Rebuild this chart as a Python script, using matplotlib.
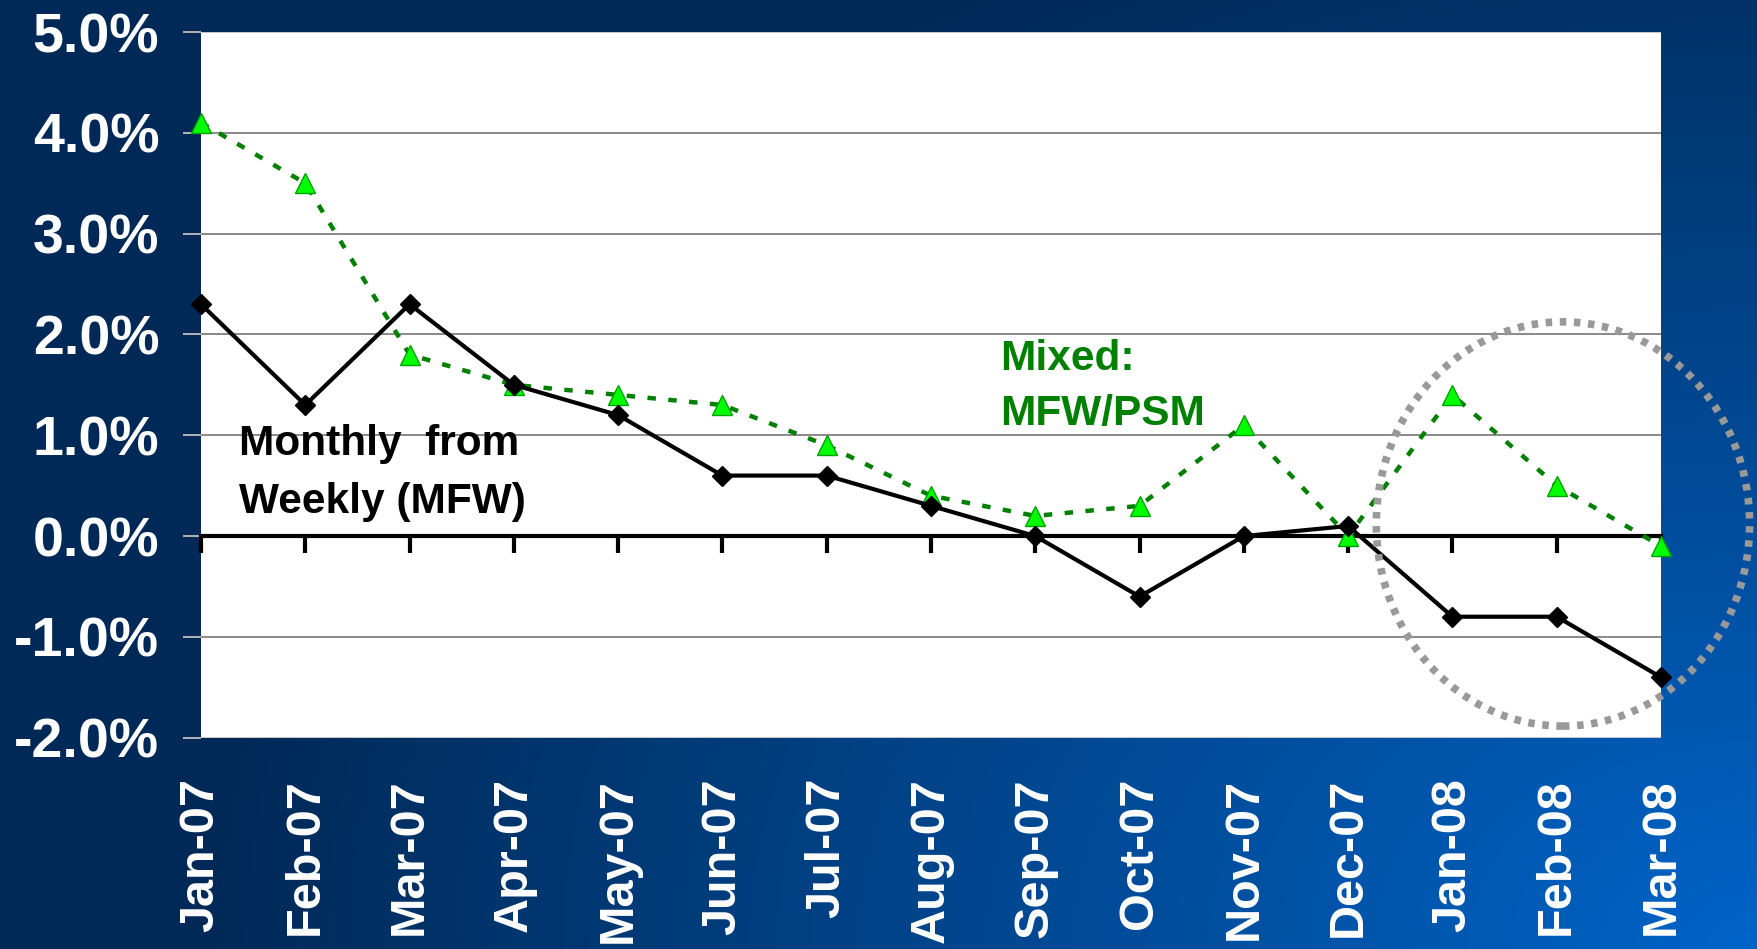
import numpy as np
import matplotlib
matplotlib.use('Agg')
import matplotlib.pyplot as plt
from matplotlib.patches import Ellipse
from matplotlib.colors import to_rgb

months = ['Jan-07', 'Feb-07', 'Mar-07', 'Apr-07', 'May-07', 'Jun-07', 'Jul-07',
          'Aug-07', 'Sep-07', 'Oct-07', 'Nov-07', 'Dec-07', 'Jan-08', 'Feb-08', 'Mar-08']
mfw = [2.3, 1.3, 2.3, 1.5, 1.2, 0.6, 0.6, 0.3, 0.0, -0.6, 0.0, 0.1, -0.8, -0.8, -1.4]
mixed = [4.1, 3.5, 1.8, 1.5, 1.4, 1.3, 0.9, 0.4, 0.2, 0.3, 1.1, 0.0, 1.4, 0.5, -0.1]
y_ticks = [-2, -1, 0, 1, 2, 3, 4, 5]
y_labels = ['-2.0%', '-1.0%', '0.0%', '1.0%', '2.0%', '3.0%', '4.0%', '5.0%']

plt.rcParams['font.family'] = ['Liberation Sans', 'DejaVu Sans']
plt.rcParams['font.weight'] = 'bold'

W, H = 1758, 949
fig = plt.figure(figsize=(W / 100, H / 100), dpi=100)

# background gradient
bg = fig.add_axes([0, 0, 1, 1], zorder=-10)
yy, xx = np.mgrid[0:H, 0:W]
d = np.hypot((W - xx) / 1.4, H - yy)
t = np.clip(1 - d / 1100, 0, 1)
dark = np.array(to_rgb('#002a58'))
bright = np.array(to_rgb('#0064c8'))
img = dark + (bright - dark) * t[..., None]
bg.imshow(img, aspect='auto', extent=[0, 1, 0, 1], origin='upper')
bg.axis('off')

ax = fig.add_axes([201 / W, 1 - 737.7 / H, (1661 - 201) / W, (737.7 - 32) / H])
ax.set_facecolor('white')
x = np.arange(len(months))
ax.set_xlim(0, len(months) - 1)
ax.set_ylim(-2, 5)

# gridlines
for yv in y_ticks:
    if yv == 0:
        continue
    col = '#c0c0c0' if yv in (-2, 5) else '#808080'
    ax.axhline(yv, color=col, lw=1.3, zorder=1)

for s in ['left', 'right', 'top']:
    ax.spines[s].set_visible(False)
ax.spines['bottom'].set_position(('data', 0))
ax.spines['bottom'].set_color('black')
ax.spines['bottom'].set_linewidth(3)
ax.spines['bottom'].set_zorder(2)
ax.set_xticks(x)
ax.set_xticklabels([])
ax.tick_params(axis='x', direction='out', length=12, width=3, color='black')

ax.set_yticks(y_ticks)
ax.set_yticklabels(y_labels)
ax.tick_params(axis='y', direction='out', length=13, width=1.3, color='#c0c0c0',
               labelcolor='white', labelsize=40, pad=17)

sec = ax.secondary_xaxis('bottom')
sec.set_xticks(x)
sec.set_xticklabels(months, rotation=90, color='white', fontsize=35, fontweight='bold',
                    va='top', ha='center')
sec.tick_params(length=0, pad=29)
sec.spines['bottom'].set_visible(False)

ax.plot(x, mixed, color='#008000', lw=3.2, dashes=(1.9, 2.8), marker='^',
        markersize=15, markerfacecolor='#00ff00', markeredgecolor='#00a000',
        markeredgewidth=1, zorder=4, clip_on=False)
ax.plot(x, mfw, color='black', lw=3.0, marker='D', markersize=10.5,
        markerfacecolor='black', markeredgecolor='black', zorder=5, clip_on=False)

ax.text(0.36, 0.91, 'Monthly  from', fontsize=30.5, fontweight='bold', color='black',
        ha='left', va='center', zorder=6)
ax.text(0.36, 0.34, 'Weekly (MFW)', fontsize=30.5, fontweight='bold', color='black',
        ha='left', va='center', zorder=6)
ax.text(7.66, 1.76, 'Mixed:', fontsize=30.5, fontweight='bold', color='#008000',
        ha='left', va='center', zorder=6)
ax.text(7.66, 1.21, 'MFW/PSM', fontsize=30.5, fontweight='bold', color='#008000',
        ha='left', va='center', zorder=6)

ell = Ellipse((13.06, 0.12), 3.58, 4.01, fill=False, edgecolor='#999999', lw=5.5,
              linestyle=(0, (0.85, 1.0)), capstyle='butt', zorder=7, clip_on=False)
ax.add_patch(ell)

fig.savefig('out.png', dpi=100)
